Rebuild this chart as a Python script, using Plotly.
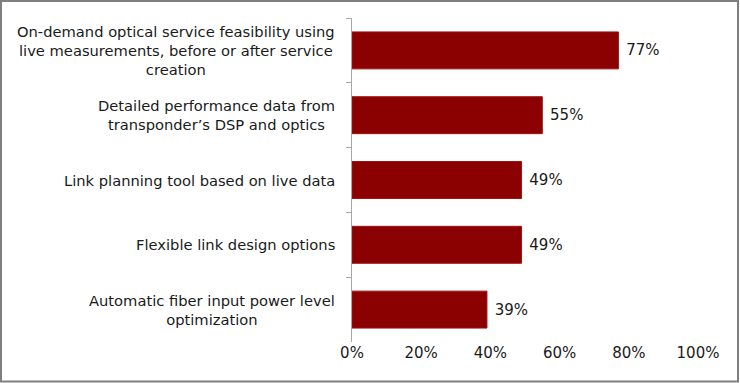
import plotly.graph_objects as go

categories = [
    "On-demand optical service feasibility using<br>live measurements, before or after service<br>creation",
    "Detailed performance data from<br>transponder\u2019s DSP and optics",
    "Link planning tool based on live data",
    "Flexible link design options",
    "Automatic fiber input power level<br>optimization",
]
values = [0.77, 0.55, 0.49, 0.49, 0.39]
value_labels = ["77%", "55%", "49%", "49%", "39%"]
tick_vals = [0, 0.2, 0.4, 0.6, 0.8, 1.0]
tick_text = ["0%", "20%", "40%", "60%", "80%", "100%"]

W, H = 740, 383
L, R, T, B = 352, 42, 18, 41
pw, ph = W - L - R, H - T - B
font = "DejaVu Sans, Verdana, sans-serif"
txt_color = "#1a1a1a"

fig = go.Figure()
fig.add_trace(go.Bar(
    x=values, y=categories, orientation="h",
    marker=dict(color="#8B0000", line=dict(color="#a01010", width=1)),
    text=value_labels, textposition="outside", texttemplate=" %{text}",
    textfont=dict(family=font, size=15, color=txt_color),
    cliponaxis=False, width=0.57, hoverinfo="skip",
))

for c in categories:
    fig.add_annotation(
        x=-15 / pw, xref="paper", y=c, yref="y",
        text=c, showarrow=False, xanchor="right", yanchor="middle",
        align="center", font=dict(family=font, size=14.7, color=txt_color),
    )

# outer border around the whole chart
fig.add_shape(
    type="rect", xref="paper", yref="paper",
    x0=(1 - L) / pw, x1=(W - 2 - L) / pw,
    y0=-(B - 1.5) / ph, y1=1 + (T - 1) / ph,
    line=dict(color="#7f7f7f", width=2), fillcolor="rgba(0,0,0,0)", layer="below",
)

fig.update_layout(
    width=W, height=H,
    margin=dict(l=L, r=R, t=T, b=B),
    paper_bgcolor="white", plot_bgcolor="white",
    showlegend=False,
    font=dict(family=font, size=15, color=txt_color),
    xaxis=dict(
        range=[0, 1], tickvals=tick_vals, ticktext=tick_text,
        showgrid=False, zeroline=False, showline=False, ticks="",
        tickfont=dict(family=font, size=15, color=txt_color),
        fixedrange=True,
    ),
    yaxis=dict(
        autorange="reversed", showticklabels=False,
        showline=True, linecolor="#a6a6a6", linewidth=1,
        ticks="outside", tickson="boundaries", ticklen=5, tickcolor="#a6a6a6",
        showgrid=False, zeroline=False, fixedrange=True,
    ),
)

fig.write_html(
    "out.html",
    config={"displayModeBar": False, "staticPlot": True},
    post_script="document.body.style.margin='0';document.body.style.padding='0';",
)
